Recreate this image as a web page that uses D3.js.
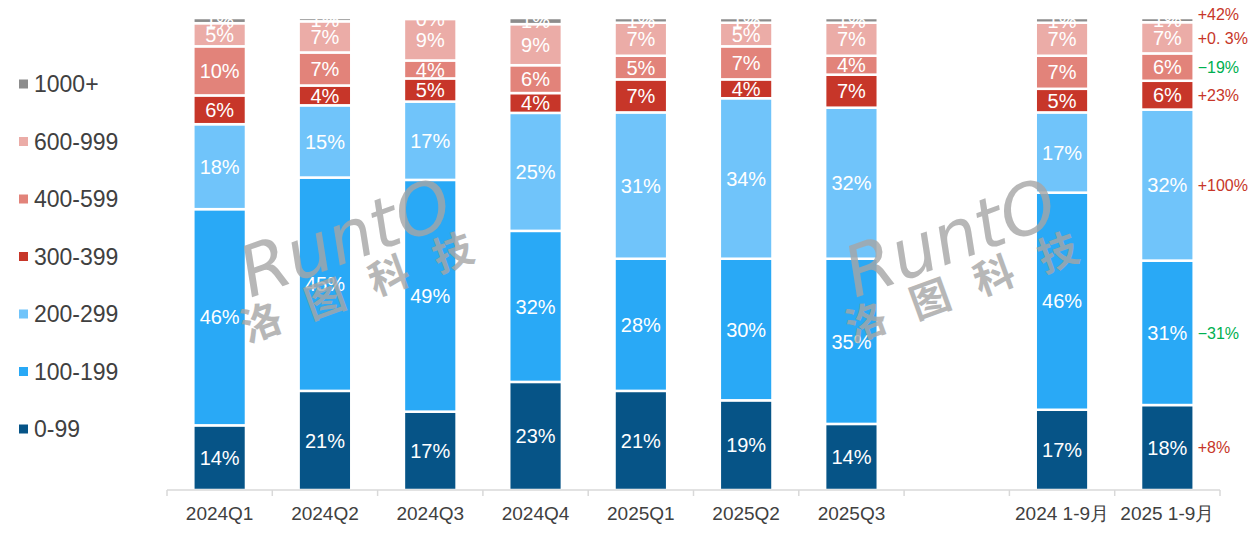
<html>
<head>
<meta charset="utf-8">
<script src="https://d3js.org/d3.v7.min.js"></script>
<style>
  body { margin: 0; background: #fff; }
  svg text { font-family: "Liberation Sans Narrow", "Liberation Sans", sans-serif; }
</style>
</head>
<body>
<svg id="chart" width="1254" height="534"></svg>
<script>
// categories (the blank slot keeps the gap before the 1-9月 totals)
const categories = ["2024Q1", "2024Q2", "2024Q3", "2024Q4", "2025Q1", "2025Q2", "2025Q3", "gap", "2024 1-9月", "2025 1-9月"];
const seriesNames = ["0-99", "100-199", "200-299", "300-399", "400-599", "600-999", "1000+"];
const seriesColors = ["#065487", "#29a9f6", "#70c4fa", "#c73629", "#e2837a", "#ebaca7", "#8c8c8c"];

// share (%) per price band, one value per category (null = empty slot)
const s0_99     = [13.7, 21.0, 16.6, 22.9, 21.0, 19.0, 14.0, null, 17.0, 18.0];
const s100_199  = [45.8, 45.2, 49.1, 32.0, 28.0, 30.0, 35.0, null, 46.0, 30.6];
const s200_299  = [18.0, 15.3, 16.6, 25.0, 31.0, 34.0, 32.0, null, 17.0, 32.0];
const s300_399  = [6.1, 4.2, 4.9, 4.2, 7.0, 4.0, 7.0, null, 5.0, 6.1];
const s400_599  = [10.4, 7.0, 3.8, 5.9, 5.0, 7.0, 4.0, null, 7.0, 5.8];
const s600_999  = [4.9, 6.6, 8.8, 8.7, 7.0, 5.0, 7.0, null, 7.0, 6.6];
const s1000     = [1.1, 0.7, 0.2, 1.3, 1.0, 1.0, 1.0, null, 1.0, 0.9];
const seriesValues = [s0_99, s100_199, s200_299, s300_399, s400_599, s600_999, s1000];

// YoY change, 2025 1-9月 vs 2024 1-9月
const changeLabels = ["+8%", "\u221231%", "+100%", "+23%", "\u221219%", "+0. 3%", "+42%"];
const changeColors = ["#c73629", "#00b050", "#c73629", "#c73629", "#00b050", "#c73629", "#c73629"];

const svg = d3.select("#chart");
const plotLeft = 167, plotRight = 1220, plotTop = 18, plotBottom = 490;

const x = d3.scaleBand().domain(categories).range([plotLeft, plotRight]).paddingInner(0.5).paddingOuter(0.25);
const y = d3.scaleLinear().domain([0, 100]).range([plotBottom, plotTop]);

// build stacked rows
const rows = categories.map((c, i) => {
  const r = { cat: c };
  seriesNames.forEach((s, j) => { r[s] = seriesValues[j][i] == null ? 0 : seriesValues[j][i]; });
  return r;
}).filter(r => r.cat !== "gap");
const stack = d3.stack().keys(seriesNames)(rows);

const layers = svg.append("g").selectAll("g")
  .data(stack).enter().append("g")
  .attr("fill", (d, i) => seriesColors[i]);

layers.selectAll("rect")
  .data(d => d).enter().append("rect")
    .attr("x", d => x(d.data.cat))
    .attr("width", x.bandwidth())
    .attr("y", d => y(d[1]))
    .attr("height", d => y(d[0]) - y(d[1]))
    .attr("stroke", "#fff")
    .attr("stroke-width", 2.5);

// value labels
layers.selectAll("text")
  .data(d => d).enter().append("text")
    .attr("x", d => x(d.data.cat) + x.bandwidth() / 2)
    .attr("y", d => (y(d[0]) + y(d[1])) / 2)
    .attr("dy", "0.36em")
    .attr("text-anchor", "middle")
    .attr("fill", "#fff")
    .style("font-size", "20px")
    .text(d => Math.round(d[1] - d[0]) + "%");

// x axis
const axis = svg.append("g")
  .attr("transform", `translate(0,${plotBottom})`);
axis.append("line")
  .attr("x1", plotLeft).attr("x2", plotRight)
  .attr("stroke", "#d9d9d9").attr("stroke-width", 1.5);
axis.selectAll("line.tick")
  .data(d3.range(categories.length + 1)).enter().append("line")
    .attr("class", "tick")
    .attr("x1", i => plotLeft + i * (plotRight - plotLeft) / categories.length)
    .attr("x2", i => plotLeft + i * (plotRight - plotLeft) / categories.length)
    .attr("y1", 0).attr("y2", 6)
    .attr("stroke", "#d9d9d9").attr("stroke-width", 1.5);
axis.selectAll("text")
  .data(categories.filter(c => c !== "gap")).enter().append("text")
    .attr("x", c => x(c) + x.bandwidth() / 2)
    .attr("y", 30)
    .attr("text-anchor", "middle")
    .attr("fill", "#404040")
    .style("font-size", "19px")
    .text(c => c);

// legend (top to bottom: 1000+ ... 0-99)
const legend = svg.append("g");
const legendItems = seriesNames.map((s, i) => ({ name: s, color: seriesColors[i] })).reverse();
const ly = d3.scalePoint().domain(legendItems.map(d => d.name)).range([84, 429]);
legend.selectAll("rect")
  .data(legendItems).enter().append("rect")
    .attr("x", 19).attr("y", d => ly(d.name) - 4.5)
    .attr("width", 9).attr("height", 9)
    .attr("fill", d => d.color);
legend.selectAll("text")
  .data(legendItems).enter().append("text")
    .attr("x", 34).attr("y", d => ly(d.name))
    .attr("dy", "0.36em")
    .attr("fill", "#404040")
    .style("font-family", "'Liberation Sans', sans-serif")
    .style("font-size", "23px")
    .text(d => d.name);

// YoY change labels next to the last bar
const last = stack.map(layer => layer[layer.length - 1]);
svg.append("g").selectAll("text")
  .data(last).enter().append("text")
    .attr("x", x("2025 1-9月") + x.bandwidth() + 4)
    .attr("y", (d, i) => (y(d[0]) + y(d[1])) / 2 + (i === 6 ? -6 : 0))
    .attr("dy", "0.36em")
    .attr("fill", (d, i) => changeColors[i])
    .style("font-size", "16px")
    .text((d, i) => changeLabels[i]);

// watermark
[0, 605].forEach(off => {
  const wm = svg.append("g")
    .attr("transform", `translate(${345 + off},237) rotate(-20)`)
    .attr("fill", "#a6a6a6").attr("opacity", 0.8);
  wm.append("text")
    .attr("x", 0).attr("y", 25)
    .attr("text-anchor", "middle")
    .style("font-family", "'DejaVu Sans', sans-serif")
    .style("font-style", "italic")
    .style("font-weight", "300")
    .style("font-size", "70px")
    .text("RuntO");
  wm.append("text")
    .attr("x", 8).attr("y", 66)
    .attr("text-anchor", "middle")
    .attr("letter-spacing", "28px")
    .style("font-family", "'Noto Sans CJK SC', sans-serif")
    .style("font-weight", "bold")
    .style("font-size", "40px")
    .text("洛图科技");
});
</script>
</body>
</html>
